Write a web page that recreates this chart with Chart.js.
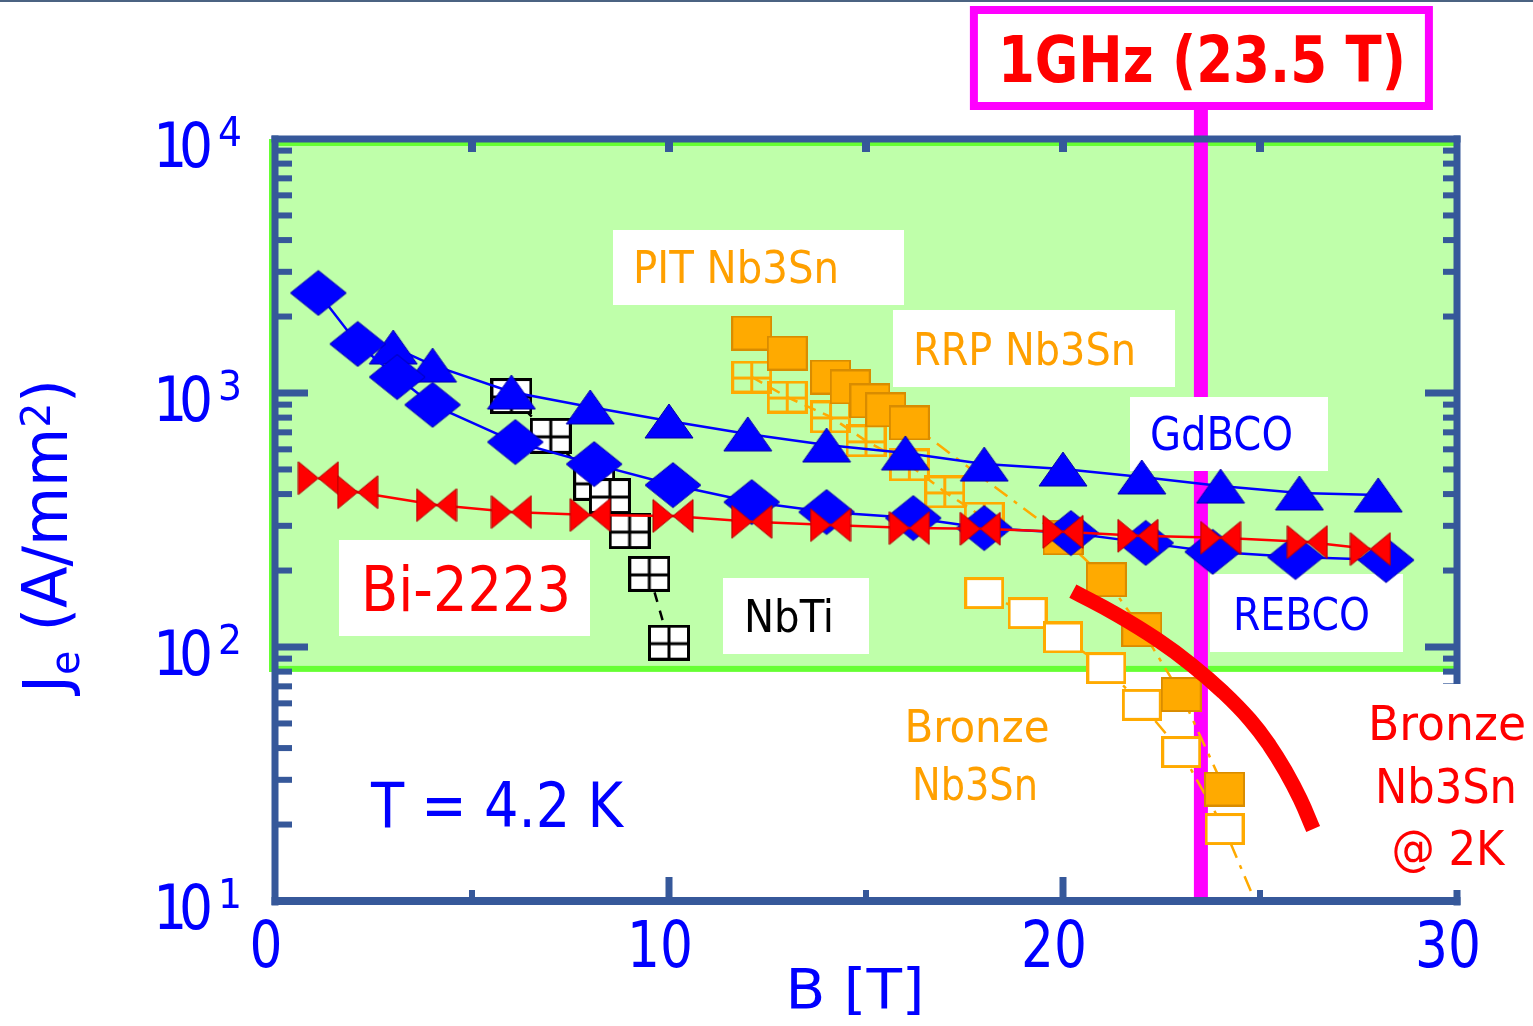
<!DOCTYPE html>
<html>
<head>
<meta charset="utf-8">
<title>Je vs B</title>
<script src="https://cdn.jsdelivr.net/npm/chart.js@4.4.1/dist/chart.umd.min.js"></script>
<style>
  html, body { margin: 0; padding: 0; background: #fff; }
  #wrap { width: 1533px; height: 1026px; }
</style>
</head>
<body>
<div id="wrap"><canvas id="jeChart" width="1533" height="1026"></canvas></div>
<script>
// Engineering current density Je (A/mm2) against field B (T), at 4.2 K
const gdbcoB  = [3, 4, 6, 8, 10, 12, 14, 16, 18, 20, 22, 24, 26, 28];
const gdbcoJe = [1517, 1288, 1009, 881, 776, 690, 624, 581, 525, 502, 467, 430, 404, 397];

const rebcoB  = [1.1, 2.1, 3.1, 4.0, 6.1, 8.1, 10.1, 12.1, 14.0, 16.2, 18.0, 20.2, 22.1, 23.8, 25.9, 28.2];
const rebcoJe = [2477, 1560, 1156, 898, 641, 525, 434, 372, 340, 322, 294, 281, 257, 237, 226, 220];

const bi2223B  = [1.1, 2.1, 4.1, 6.0, 8.0, 10.1, 12.1, 14.1, 16.1, 17.9, 20.0, 21.9, 24.0, 26.2, 27.8];
const bi2223Je = [462, 407, 362, 340, 331, 328, 311, 302, 294, 292, 284, 274, 269, 259, 243];

const nbtiB  = [6.0, 7.0, 8.1, 8.5, 9.0, 9.5, 10.0];
const nbtiJe = [973, 678, 443, 393, 286, 194, 104];

const rrpB  = [12.1, 13.0, 14.1, 14.6, 15.1, 15.5, 16.1, 20.0, 21.1, 22.0, 23.0, 24.1];
const rrpJe = [1722, 1436, 1156, 1056, 931, 858, 762, 269, 184, 117, 65, 27.6];

const pitB  = [12.1, 13.0, 14.1, 15.0, 16.1, 17.0, 18.0];
const pitJe = [1156, 964, 805, 648, 521, 408, 322];

// last bronze value only continues the line past the axis (no marker)
const bronzeB  = [18.0, 19.1, 20.0, 21.1, 22.0, 23.0, 24.1, 25.0];
const bronzeJe = [163, 136, 109, 82.6, 59.2, 38.6, 19.2, 9.0];

// bronze Nb3Sn at 2 K (thick curve)
const bronze2KB  = [20.25, 21.37, 22.39, 23.27, 24.06, 24.75, 25.25, 25.66, 26.02, 26.35];
const bronze2KJe = [166, 134, 107, 84.9, 66.5, 51.6, 40.8, 32.2, 25.2, 19.2];

const nmrField = 23.5;   // 1 GHz proton NMR
const bandFloor = 82;    // lower edge of the shaded region

const xTickValues = [0, 10, 20, 30];
const xMinorValues = [5, 15, 25];
const yTickValues = [10, 100, 1000, 10000];
const yTickExp = ['1', '2', '3', '4'];

const FONT = '"DejaVu Sans Condensed", "DejaVu Sans", sans-serif';
const WIDE = '"DejaVu Sans", sans-serif';
const BLUE = '#0000ff', RED = '#ff0000', ORANGE = '#ffa000', AXIS = '#36589a';

// ---- marker bitmaps --------------------------------------------------
function marker(w, h, draw) {
  const c = document.createElement('canvas');
  c.width = w; c.height = h;
  draw(c.getContext('2d'), w, h);
  return c;
}
const diamond = marker(58, 47, (g, w, h) => {
  g.beginPath();
  g.moveTo(w / 2, 1); g.lineTo(w - 1, h / 2); g.lineTo(w / 2, h - 1); g.lineTo(1, h / 2);
  g.closePath();
  g.fillStyle = BLUE; g.fill();
  g.strokeStyle = '#0000aa'; g.lineWidth = 1; g.stroke();
});
const triangle = marker(50, 36, (g, w, h) => {
  g.beginPath();
  g.moveTo(w / 2, 1); g.lineTo(w - 1, h - 1); g.lineTo(1, h - 1);
  g.closePath();
  g.fillStyle = BLUE; g.fill();
  g.strokeStyle = '#0000aa'; g.lineWidth = 1; g.stroke();
});
const bowtie = marker(42, 35, (g, w, h) => {
  g.fillStyle = RED; g.strokeStyle = '#b00000'; g.lineWidth = 1;
  g.beginPath(); g.moveTo(1, 1); g.lineTo(w / 2, h / 2); g.lineTo(1, h - 1); g.closePath();
  g.fill(); g.stroke();
  g.beginPath(); g.moveTo(w - 1, 1); g.lineTo(w / 2, h / 2); g.lineTo(w - 1, h - 1); g.closePath();
  g.fill(); g.stroke();
});
function gridBox(w, h, stroke, fill) {
  return marker(w, h, (g) => {
    if (fill) { g.fillStyle = fill; g.fillRect(2, 2, w - 4, h - 4); }
    g.strokeStyle = stroke; g.lineWidth = 3;
    g.strokeRect(1.5, 1.5, w - 3, h - 3);
    g.beginPath();
    g.moveTo(w / 2, 1); g.lineTo(w / 2, h - 1);
    g.moveTo(1, h / 2 + 1); g.lineTo(w - 1, h / 2 + 1);
    g.stroke();
  });
}
const nbtiBox = gridBox(42, 36, '#000000', '#ffffff');
const pitBox = gridBox(41, 33, '#ffaa00', null);
const rrpBox = marker(41, 35, (g, w, h) => {
  g.fillStyle = '#ffaa00'; g.fillRect(1, 1, w - 2, h - 2);
  g.strokeStyle = '#d98c00'; g.lineWidth = 2; g.strokeRect(1, 1, w - 2, h - 2);
});
const bronzeBox = marker(40, 32, (g, w, h) => {
  g.fillStyle = '#ffffff'; g.fillRect(1, 1, w - 2, h - 2);
  g.strokeStyle = '#ffaa00'; g.lineWidth = 3; g.strokeRect(1.5, 1.5, w - 3, h - 3);
});

// ---- text helper -------------------------------------------------------
function write(ctx, t, x, y, size, color, o = {}) {
  ctx.save();
  ctx.font = (o.bold ? 'bold ' : '') + size + 'px ' + (o.family || FONT);
  if (o.ls) ctx.letterSpacing = o.ls + 'px';
  let w = ctx.measureText(t).width;
  if (o.ls) w -= o.ls;
  const sx = o.width ? o.width / w : (o.sx || 1);
  let x0 = x;
  if (o.align === 'center') x0 = x - (w * sx) / 2;
  else if (o.align === 'right') x0 = x - w * sx;
  ctx.translate(x0, y);
  ctx.scale(sx, 1);
  ctx.fillStyle = color;
  ctx.textAlign = 'left';
  ctx.textBaseline = 'alphabetic';
  ctx.fillText(t, 0, 0);
  ctx.restore();
}

const boxedNotes = [
  { t: 'PIT Nb3Sn', box: [613, 230, 291, 75], x: 633, y: 283, size: 45, w: 206, c: ORANGE },
  { t: 'RRP Nb3Sn', box: [893, 310, 282, 77], x: 913, y: 365, size: 45, w: 223, c: ORANGE },
  { t: 'GdBCO', box: [1130, 397, 198, 74], x: 1150, y: 450, size: 47, w: 143, c: BLUE },
  { t: 'REBCO', box: [1210, 574, 193, 78], x: 1233, y: 630, size: 45, w: 137, c: BLUE },
  { t: 'Bi-2223', box: [339, 540, 251, 96], x: 361, y: 611, size: 63, w: 210, c: RED },
  { t: 'NbTi', box: [723, 578, 146, 76], x: 744, y: 632, size: 45, w: 90, c: '#000000' }
];

const decor = {
  id: 'decor',
  beforeDatasetsDraw(chart) {
    const { ctx, chartArea: a, scales: { x, y } } = chart;
    ctx.save();
    ctx.fillStyle = '#4b6382';
    ctx.fillRect(0, 0, chart.width, 2);

    // shaded region down to the band floor
    const yb = y.getPixelForValue(bandFloor);
    ctx.fillStyle = '#bfffaa';
    ctx.fillRect(a.left - 5, a.top, a.right - a.left + 5, yb - a.top);
    ctx.fillStyle = '#66ff33';
    ctx.fillRect(a.left - 6, a.top, 4, yb - a.top + 3);
    ctx.fillRect(a.left - 6, a.top + 2, a.right - a.left + 6, 5);
    ctx.fillRect(a.left - 6, yb - 3, a.right - a.left + 6, 6);

    // 23.5 T line and its label
    const xm = x.getPixelForValue(nmrField);
    ctx.fillStyle = '#ff00ff';
    ctx.fillRect(xm - 7, 106, 14, a.bottom - 106);
    ctx.fillStyle = '#ffffff';
    ctx.fillRect(xm - 227, 10, 455, 96);
    ctx.strokeStyle = '#ff00ff'; ctx.lineWidth = 8;
    ctx.strokeRect(xm - 227, 10, 455, 96);
    write(ctx, '1GHz (23.5 T)', xm + 1, 82, 64, RED, { bold: true, align: 'center', width: 408 });

    boxedNotes.forEach((n) => {
      ctx.fillStyle = '#ffffff';
      ctx.fillRect(n.box[0], n.box[1], n.box[2], n.box[3]);
      write(ctx, n.t, n.x, n.y, n.size, n.c, { width: n.w });
    });

    write(ctx, 'T = 4.2 K', 371, 827, 63, BLUE, { width: 252 });
    write(ctx, 'Bronze', 977, 742, 44, ORANGE, { align: 'center', width: 145 });
    write(ctx, 'Nb3Sn', 975, 800, 44, ORANGE, { align: 'center', width: 126 });
    ctx.restore();
  },
  afterDatasetsDraw(chart) {
    const { ctx, chartArea: a, scales: { x, y } } = chart;
    ctx.save();
    ctx.fillStyle = AXIS;
    // frame
    ctx.fillRect(a.left - 3.5, a.top - 3.5, 7, a.bottom - a.top + 8);
    ctx.fillRect(a.right - 3.5, a.top - 3.5, 7, a.bottom - a.top + 8);
    ctx.fillRect(a.left - 3.5, a.top - 3.5, a.right - a.left + 7, 7);
    ctx.fillRect(a.left - 3.5, a.bottom - 4, a.right - a.left + 7, 8);

    // inward ticks on the log axes (left and right)
    for (let d = 10; d < 10000; d *= 10) {
      for (let m = 1; m <= 9; m++) {
        const v = d * m;
        if (v === 10) continue;
        const py = y.getPixelForValue(v);
        if (m === 1) {
          ctx.fillRect(a.left, py - 3.5, 33, 7);
          ctx.fillRect(a.right - 32, py - 3.5, 32, 7);
        } else {
          ctx.fillRect(a.left, py - 3, 17, 6);
          ctx.fillRect(a.right - 14, py - 3, 14, 6);
        }
      }
    }
    // ticks on the field axes (bottom and top)
    xTickValues.concat(xMinorValues).forEach((v) => {
      if (v === 0 || v === 30) return;
      const px = x.getPixelForValue(v);
      const major = xTickValues.includes(v);
      if (major) ctx.fillRect(px - 3.5, a.bottom - 24, 7, 24);
      else ctx.fillRect(px - 3, a.bottom - 11, 6, 11);
      ctx.fillRect(px - 4, a.top, 8, 13);
    });

    // the 2 K label sits on a white patch over the right axis
    ctx.fillStyle = '#ffffff';
    ctx.fillRect(1362, 684, 171, 206);
    write(ctx, 'Bronze', 1447, 740, 48, RED, { align: 'center', width: 158 });
    write(ctx, 'Nb3Sn', 1446, 803, 48, RED, { align: 'center', width: 142 });
    write(ctx, '@ 2K', 1448, 865, 48, RED, { align: 'center', width: 113 });

    // tick labels
    xTickValues.forEach((v) => {
      write(ctx, String(v), x.getPixelForValue(v) - 9, 967, 64, BLUE, { align: 'center', sx: 0.9 });
    });
    yTickValues.forEach((v, i) => {
      const py = y.getPixelForValue(v);
      write(ctx, '10', 213, py + 28, 63, BLUE, { align: 'right', sx: 0.85, family: WIDE, ls: -10 });
      write(ctx, yTickExp[i], 218, py + 7, 41, BLUE, { width: 24, family: WIDE });
    });

    // axis titles
    write(ctx, 'B [T]', 855, 1008, 56, BLUE, { align: 'center', width: 139 });
    const runs = [
      { t: 'J', size: 63, dy: 0 },
      { t: 'e', size: 41, dy: 12 },
      { t: ' (A/mm', size: 63, dy: 0 },
      { t: '2', size: 41, dy: -17 },
      { t: ')', size: 63, dy: 0 }
    ];
    let total = 0;
    runs.forEach((r) => {
      ctx.font = r.size + 'px ' + FONT;
      r.w = ctx.measureText(r.t).width;
      total += r.w;
    });
    ctx.translate(67, 693);
    ctx.rotate(-Math.PI / 2);
    ctx.scale(314 / total, 1);
    ctx.fillStyle = BLUE;
    ctx.textBaseline = 'alphabetic';
    let cx = 0;
    runs.forEach((r) => {
      ctx.font = r.size + 'px ' + FONT;
      ctx.fillText(r.t, cx, r.dy);
      cx += r.w;
    });
    ctx.restore();
  }
};

const pts = (xs, ys) => xs.map((v, i) => ({ x: v, y: ys[i] }));
const series = (xs, ys, style, color, dash, radii) => ({
  data: pts(xs, ys),
  borderColor: color,
  borderWidth: 2.5,
  borderDash: dash,
  pointStyle: style,
  pointRadius: radii || 20,
  pointHoverRadius: radii || 20,
  fill: false,
  tension: 0
});

new Chart(document.getElementById('jeChart'), {
  type: 'line',
  data: {
    datasets: [
      {
        data: pts(bronze2KB, bronze2KJe),
        borderColor: RED,
        borderWidth: 15,
        borderCapStyle: 'butt',
        tension: 0.45,
        pointRadius: 0,
        fill: false
      },
      series(bi2223B, bi2223Je, bowtie, RED, []),
      series(rebcoB, rebcoJe, diamond, BLUE, []),
      series(gdbcoB, gdbcoJe, triangle, BLUE, []),
      series(nbtiB, nbtiJe, nbtiBox, '#000000', [10, 9]),
      series(rrpB, rrpJe, rrpBox, '#ffaa00', [16, 8, 4, 8]),
      series(pitB, pitJe, pitBox, '#ffaa00', [12, 8]),
      series(bronzeB, bronzeJe, bronzeBox, '#ffaa00', [16, 8, 4, 8],
        bronzeB.map((_, i) => (i < bronzeB.length - 1 ? 20 : 0)))
    ]
  },
  options: {
    responsive: false,
    devicePixelRatio: 1,
    animation: false,
    events: [],
    layout: { padding: { left: 275, right: 76, top: 139, bottom: 125 } },
    plugins: { legend: { display: false }, tooltip: { enabled: false } },
    scales: {
      x: { type: 'linear', min: 0, max: 30, display: false },
      y: { type: 'logarithmic', min: 10, max: 10000, display: false }
    }
  },
  plugins: [decor]
});
</script>
</body>
</html>
